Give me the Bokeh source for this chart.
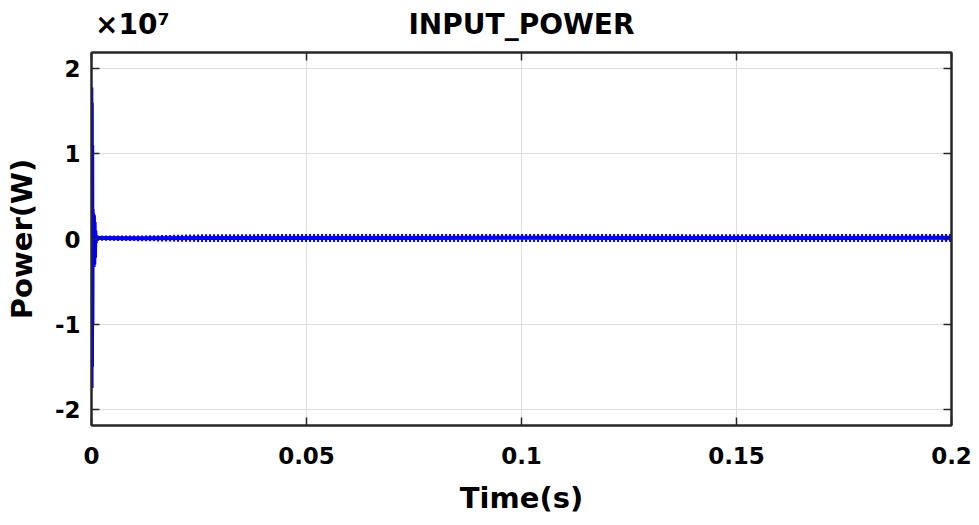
from bokeh.plotting import figure
from bokeh.models import Range1d, FixedTicker, CustomJSTickFormatter, LinearAxis
from bokeh.embed import file_html
from bokeh.resources import INLINE

# ---- data ----
x_ticks = [0.0, 0.05, 0.1, 0.15, 0.2]
y_ticks = [-2e7, -1e7, 0.0, 1e7, 2e7]
title_text = "INPUT_POWER"
exponent_text = "×10⁷"

# start-up transient
t_start = [0.0, 0.0001, 0.0002, 0.00025, 0.0003, 0.00035, 0.0004, 0.00045,
           0.0005, 0.00056, 0.00064, 0.00072, 0.0008, 0.00088, 0.00096,
           0.00104, 0.00112, 0.0012, 0.0013]
p_start = [0.0, 0.2e7, 1.78e7, -1.75e7, 1.6e7, -1.5e7, 1.1e7, -1.0e7,
           0.35e7, -0.3e7, 0.3e7, -0.33e7, 0.28e7, -0.3e7, 0.2e7,
           -0.22e7, 0.1e7, -0.05e7, 0.012e7]

# steady state: mean level and ripple envelope
t_steady = [0.0013, 0.01, 0.025, 0.05, 0.075, 0.1, 0.125, 0.15, 0.175, 0.2]
p_mean = [0.012e7, 0.010e7, 0.012e7, 0.013e7, 0.013e7, 0.014e7, 0.013e7, 0.012e7, 0.013e7, 0.014e7]
p_upper = [0.025e7, 0.025e7, 0.040e7, 0.045e7, 0.045e7, 0.045e7, 0.045e7, 0.040e7, 0.045e7, 0.045e7]
p_lower = [-0.005e7, -0.010e7, -0.020e7, -0.020e7, -0.020e7, -0.020e7, -0.020e7, -0.020e7, -0.020e7, -0.020e7]

FONT = "DejaVu Sans"
BLUE = "#0000FF"

p = figure(width=975, height=521, output_backend="svg", toolbar_location=None,
           x_range=Range1d(0, 0.2), y_range=Range1d(-2.19e7, 2.19e7),
           min_border_left=91, min_border_right=24, min_border_top=52, min_border_bottom=96)

p.outline_line_color = "#262626"
p.outline_line_width = 2
p.background_fill_color = "white"
p.border_fill_color = "white"

xt = FixedTicker(ticks=x_ticks)
yt = FixedTicker(ticks=y_ticks)
xfmt = CustomJSTickFormatter(code="return parseFloat(tick.toFixed(3)).toString();")
yfmt = CustomJSTickFormatter(code="return (tick/1e7).toFixed(0);")
blank = CustomJSTickFormatter(code="return '';")

for ax in p.xaxis:
    ax.ticker = xt
    ax.formatter = xfmt
    ax.axis_label = "Time(s)"
    ax.major_label_standoff = 21
    ax.axis_label_standoff = 14
for ax in p.yaxis:
    ax.ticker = yt
    ax.formatter = yfmt
    ax.axis_label = "Power(W)"
    ax.major_label_standoff = 11
    ax.axis_label_standoff = 13

for ax in p.axis:
    ax.major_tick_in = 8
    ax.major_tick_out = 0
    ax.minor_tick_line_color = None
    ax.axis_line_color = "#262626"
    ax.axis_line_width = 2
    ax.major_tick_line_color = "#262626"
    ax.major_tick_line_width = 1.5
    ax.major_label_text_font = FONT
    ax.major_label_text_font_size = "23px"
    ax.major_label_text_font_style = "bold"
    ax.major_label_text_color = "#000000"
    ax.axis_label_text_font = FONT
    ax.axis_label_text_font_size = "29px"
    ax.axis_label_text_font_style = "bold"
    ax.axis_label_text_color = "#000000"

# box ticks on the other two sides
for side, tick in (("right", yt), ("above", xt)):
    a = LinearAxis(ticker=tick, formatter=blank, major_tick_in=8, major_tick_out=0,
                   minor_tick_line_color=None, axis_line_color="#262626", axis_line_width=2,
                   major_tick_line_color="#262626", major_tick_line_width=1.5,
                   major_label_standoff=0, major_label_text_font_size="1px")
    p.add_layout(a, side)

# top text row: exponent over the top-left corner and the chart title, centred
top_axis = LinearAxis(ticker=FixedTicker(ticks=[0.0095, 0.1]),
                      formatter=CustomJSTickFormatter(args=dict(e=exponent_text, t=title_text),
                                                      code="return tick < 0.05 ? e : t;"),
                      major_tick_line_color=None, minor_tick_line_color=None, axis_line_color=None,
                      major_label_standoff=6, major_label_text_font=FONT,
                      major_label_text_font_size="28px", major_label_text_font_style="bold",
                      major_label_text_color="#000000")
p.add_layout(top_axis, "above")

p.xgrid.ticker = xt
p.ygrid.ticker = yt
p.grid.grid_line_color = "#dedede"
p.grid.grid_line_width = 1

# traces
p.line(t_start, p_start, line_color=BLUE, line_width=2)
p.line(t_steady, p_mean, line_color=BLUE, line_width=4)
p.line(t_steady, p_upper, line_color=BLUE, line_width=2.5, line_dash="2 2")
p.line(t_steady, p_lower, line_color=BLUE, line_width=2.5, line_dash="2 2")

with open("out.html", "w", encoding="utf-8") as f:
    f.write(file_html(p, INLINE))
